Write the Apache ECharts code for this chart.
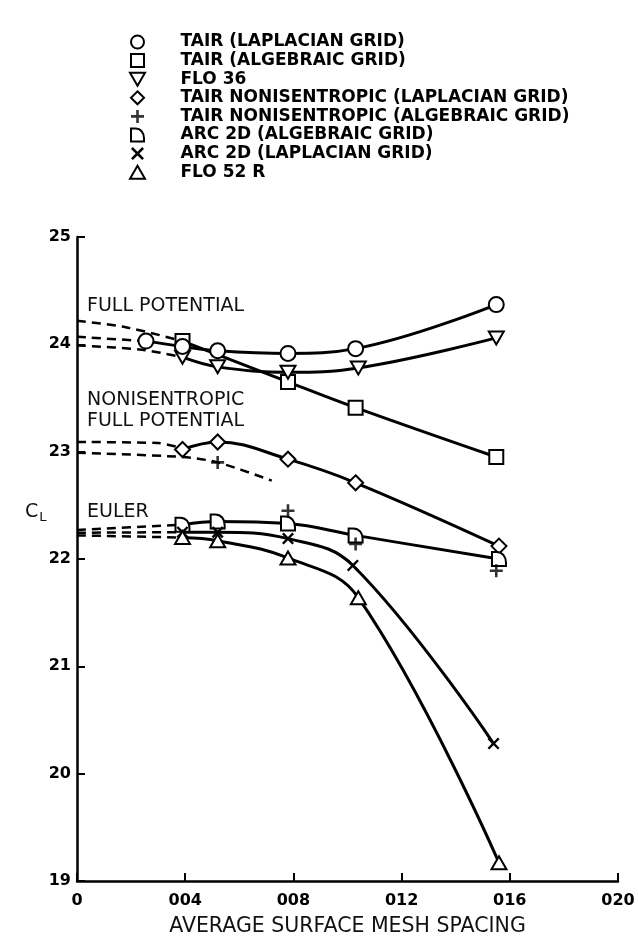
<!DOCTYPE html>
<html><head><meta charset="utf-8">
<script src="https://cdn.jsdelivr.net/npm/echarts@6/dist/echarts.min.js"></script>
<style>html,body{margin:0;padding:0;background:#fff}#c{width:638px;height:942px}</style>
</head><body><div id="c"></div>
<script>
// ---- data (x = average surface mesh spacing, y = CL) ----
const xTicks = [0, 0.004, 0.008, 0.012, 0.016, 0.020];
const yTicks = [19, 20, 21, 22, 23, 24, 25];

const tairLapX = [0.00255, 0.0039, 0.0052, 0.0078, 0.0103, 0.0155];
const tairLapY = [24.03, 23.98, 23.94, 23.915, 23.96, 24.37];

const tairAlgX = [0.0039, 0.0078, 0.0103, 0.0155];
const tairAlgY = [24.03, 23.65, 23.41, 22.95];

const flo36X = [0.0039, 0.0052, 0.0078, 0.0104, 0.0155];
const flo36Y = [23.88, 23.79, 23.74, 23.78, 24.06];

const nonLapX = [0.0039, 0.0052, 0.0078, 0.0103, 0.0156];
const nonLapY = [23.02, 23.09, 22.93, 22.71, 22.12];

const nonAlgX = [0.0052, 0.0078, 0.0103, 0.0155];
const nonAlgY = [22.90, 22.45, 22.14, 21.89];

const arcAlgX = [0.0039, 0.0052, 0.0078, 0.0103, 0.0156];
const arcAlgY = [22.32, 22.35, 22.33, 22.22, 22.00];

const arcLapX = [0.0039, 0.0052, 0.0078, 0.0102, 0.0154];
const arcLapY = [22.25, 22.25, 22.19, 21.94, 20.28];

const flo52X = [0.0039, 0.0052, 0.0078, 0.0104, 0.0156];
const flo52Y = [22.20, 22.17, 22.01, 21.64, 19.17];

// dashed extrapolations to zero spacing
const exAlgX = [0, 0.0018, 0.0039];       const exAlgY = [24.22, 24.16, 24.03];
const exLapX = [0, 0.00255];              const exLapY = [24.07, 24.03];
const exFloX = [0, 0.0024, 0.0039];       const exFloY = [23.99, 23.95, 23.88];
const exNonLapX = [0, 0.0030, 0.0039];    const exNonLapY = [23.09, 23.08, 23.03];
const exNonAlgX = [0, 0.0039, 0.0052, 0.0072]; const exNonAlgY = [22.99, 22.95, 22.90, 22.73];
const exArcAlgX = [0, 0.0039];            const exArcAlgY = [22.27, 22.32];
const exArcLapX = [0, 0.0039];            const exArcLapY = [22.245, 22.25];
const exFlo52X = [0, 0.0039];             const exFlo52Y = [22.22, 22.20];

const names = ['TAIR (LAPLACIAN GRID)', 'TAIR (ALGEBRAIC GRID)', 'FLO 36',
  'TAIR NONISENTROPIC (LAPLACIAN GRID)', 'TAIR NONISENTROPIC (ALGEBRAIC GRID)',
  'ARC 2D (ALGEBRAIC GRID)', 'ARC 2D (LAPLACIAN GRID)', 'FLO 52 R'];

// ---- build ----
const zip = (xs, ys) => xs.map((x, i) => [x, ys[i]]);
const F = 'DejaVu Sans';
const SYM = {
  circle: 'circle',
  rect: 'path://M0,0 H12 V12 H0 Z',
  down: 'path://M0,0 L12,0 L6,10.4 Z',
  diamond: 'path://M6,0 L12,6 L6,12 L0,6 Z',
  plus: 'path://M-1,-5 H1 V-1 H5 V1 H1 V5 H-1 V1 H-5 V-1 H-1 Z',
  dee: 'path://M0,0 L4,0 C9,0 12,4 12,9 L12,12 L0,12 Z',
  cross: 'path://M-5,-3.6 L-3.6,-5 L0,-1.4 L3.6,-5 L5,-3.6 L1.4,0 L5,3.6 L3.6,5 L0,1.4 L-3.6,5 L-5,3.6 L-1.4,0 Z',
  up: 'path://M6,0 L12,10.4 L0,10.4 Z'
};
const solid = (name, xs, ys, sym, size, z) => ({
  name, type: 'line', data: zip(xs, ys), smooth: 0.4,
  symbol: SYM[sym], symbolSize: size, symbolKeepAspect: true,
  lineStyle: { color: '#000', width: 3 },
  itemStyle: { color: '#fff', borderColor: '#000', borderWidth: 2 },
  z: z || 3
});
const dashed = (xs, ys) => ({
  type: 'line', data: zip(xs, ys), smooth: 0.3, symbol: 'none', silent: true,
  lineStyle: { color: '#000', width: 2.5, type: [9, 6] }, z: 2
});

const series = [
  dashed(exAlgX, exAlgY), dashed(exLapX, exLapY), dashed(exFloX, exFloY),
  dashed(exNonLapX, exNonLapY), dashed(exNonAlgX, exNonAlgY),
  dashed(exArcAlgX, exArcAlgY), dashed(exArcLapX, exArcLapY), dashed(exFlo52X, exFlo52Y),
  solid(names[0], tairLapX, tairLapY, 'circle', 15, 4),
  solid(names[1], tairAlgX, tairAlgY, 'rect', 14),
  solid(names[2], flo36X, flo36Y, 'down', 15),
  solid(names[3], nonLapX, nonLapY, 'diamond', 15),
  { name: names[4], type: 'scatter', data: zip(nonAlgX, nonAlgY), symbol: SYM.plus,
    symbolSize: 13, itemStyle: { color: '#000' }, z: 4 },
  solid(names[5], arcAlgX, arcAlgY, 'dee', 14),
  { ...solid(names[6], arcLapX, arcLapY, 'cross', 12), itemStyle: { color: '#000' } },
  solid(names[7], flo52X, flo52Y, 'up', 15)
];

const legendIcons = [SYM.circle, SYM.rect, SYM.down, SYM.diamond, SYM.plus, SYM.dee, SYM.cross, SYM.up];
const legendFill = ['#fff', '#fff', '#fff', '#fff', '#000', '#fff', '#000', '#fff'];
const legendBorder = [2, 2, 2, 2, 0, 2, 0, 2];

const chart = echarts.init(document.getElementById('c'), null, { renderer: 'canvas' });
chart.setOption({
  animation: false,
  backgroundColor: '#fff',
  grid: { left: 77, right: 20, top: 237, bottom: 58 },
  legend: {
    orient: 'vertical', left: 129, top: 33.5, padding: 0,
    itemWidth: 76, itemHeight: 13, itemGap: 1.6,
    selectedMode: false,
    textStyle: { fontFamily: F, fontWeight: 'bold', fontSize: 17, lineHeight: 13, color: '#000' },
    data: names.map((n, i) => ({
      name: n, icon: legendIcons[i],
      itemStyle: { color: legendFill[i], borderColor: '#000', borderWidth: legendBorder[i] }
    }))
  },
  xAxis: {
    type: 'value', min: xTicks[0], max: xTicks[xTicks.length - 1], interval: 0.004,
    name: 'AVERAGE SURFACE MESH SPACING', nameLocation: 'middle', nameGap: 35,
    nameTextStyle: { fontFamily: F, fontSize: 20.5, color: '#111' },
    axisLine: { onZero: false, lineStyle: { color: '#000', width: 2.5 } },
    axisTick: { inside: true, length: 8, lineStyle: { color: '#000', width: 2 } },
    axisLabel: { margin: 12, fontFamily: F, fontWeight: 'bold', fontSize: 16, color: '#000',
      formatter: v => v === 0 ? '0' : v.toFixed(3).slice(2) },
    splitLine: { show: false }
  },
  yAxis: {
    type: 'value', min: yTicks[0], max: yTicks[yTicks.length - 1], interval: 1,
    axisLine: { show: true, onZero: false, lineStyle: { color: '#000', width: 2.5 } },
    axisTick: { show: true, inside: true, length: 8, lineStyle: { color: '#000', width: 2 } },
    axisLabel: { margin: 6, fontFamily: F, fontWeight: 'bold', fontSize: 16, color: '#000' },
    splitLine: { show: false }
  },
  graphic: [
    { type: 'text', left: 87, top: 297, style: { text: 'FULL POTENTIAL', font: '19px "DejaVu Sans"', fill: '#111' } },
    { type: 'text', left: 87, top: 391, style: { text: 'NONISENTROPIC', font: '19px "DejaVu Sans"', fill: '#111' } },
    { type: 'text', left: 87, top: 412, style: { text: 'FULL POTENTIAL', font: '19px "DejaVu Sans"', fill: '#111' } },
    { type: 'text', left: 87, top: 503, style: { text: 'EULER', font: '19px "DejaVu Sans"', fill: '#111' } },
    { type: 'text', left: 25, top: 503, style: {
        text: '{c|C}{l|L}',
        rich: { c: { fontFamily: F, fontSize: 19, fill: '#111' },
                l: { fontFamily: F, fontSize: 13, fill: '#111', padding: [10, 0, 0, 1] } } } }
  ],
  series
});
</script></body></html>
